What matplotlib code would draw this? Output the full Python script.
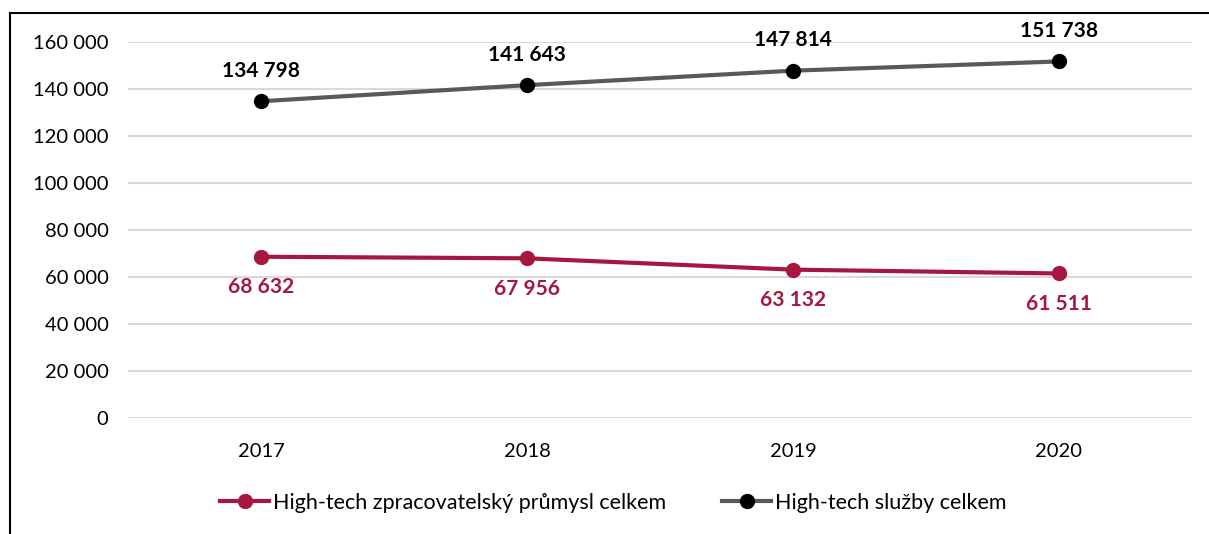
import matplotlib
matplotlib.use("Agg")
import matplotlib.pyplot as plt
from matplotlib.lines import Line2D
from matplotlib.ticker import FuncFormatter

# ── Data ──────────────────────────────────────────────────────────────────────
YEARS    = ["2017", "2018", "2019", "2020"]
INDUSTRY = [68632, 67956, 63132, 61511]
SERVICES = [134798, 141643, 147814, 151738]
LABEL_INDUSTRY = "High-tech zpracovatelský průmysl celkem"
LABEL_SERVICES = "High-tech služby celkem"

# ── Style ─────────────────────────────────────────────────────────────────────
CRIMSON = "#A6173F"
GRAY    = "#595959"
GRID    = "#D9D9D9"
plt.rcParams["font.family"] = ["Lato", "DejaVu Sans"]


def fmt_thousands(v, _pos=None):
    return f"{int(v):,}".replace(",", " ")


fig = plt.figure(figsize=(12.09, 5.34), dpi=100, facecolor="white")
ax = fig.add_axes([0.1059, 0.2172, 0.8800, 0.7041])

x = range(len(YEARS))
ax.plot(x, INDUSTRY, color=CRIMSON, linewidth=3, marker="o", markersize=10,
        markerfacecolor=CRIMSON, markeredgecolor=CRIMSON, label=LABEL_INDUSTRY,
        zorder=3)
ax.plot(x, SERVICES, color=GRAY, linewidth=3, marker="o", markersize=10,
        markerfacecolor="black", markeredgecolor="black", label=LABEL_SERVICES,
        zorder=3)

for xi, v in zip(x, SERVICES):
    ax.annotate(fmt_thousands(v), (xi, v), xytext=(0, 22), textcoords="offset points",
                ha="center", va="center", fontsize=15, fontweight="bold", color="black")
for xi, v in zip(x, INDUSTRY):
    ax.annotate(fmt_thousands(v), (xi, v), xytext=(0, -22), textcoords="offset points",
                ha="center", va="center", fontsize=15, fontweight="bold", color=CRIMSON)

ax.set_xlim(-0.5, len(YEARS) - 0.5)
ax.set_ylim(0, 160000)
ax.set_yticks(range(0, 160001, 20000))
ax.yaxis.set_major_formatter(FuncFormatter(fmt_thousands))
ax.set_xticks(list(x))
ax.set_xticklabels(YEARS)
ax.grid(axis="y", color=GRID, linewidth=1.5)
ax.set_axisbelow(True)
for s in ax.spines.values():
    s.set_visible(False)
ax.tick_params(axis="both", length=0, labelsize=14.5, colors="black")
ax.tick_params(axis="x", pad=18)
ax.tick_params(axis="y", pad=14)

fig.legend(loc="center", bbox_to_anchor=(0.507, 0.058), ncol=2, frameon=False,
           fontsize=15.5, handlelength=2.3, handletextpad=0.15, columnspacing=2.6)

# outer chart frame (only top and left edges are inside the picture)
x0 = 10 / 1209
y0 = 1 - 13 / 534
fig.add_artist(Line2D([x0, 1.0], [y0, y0], transform=fig.transFigure,
                      color="black", linewidth=1.5))
fig.add_artist(Line2D([x0, x0], [0.0, y0], transform=fig.transFigure,
                      color="black", linewidth=1.5))

fig.savefig("out.png", dpi=100, facecolor="white")
